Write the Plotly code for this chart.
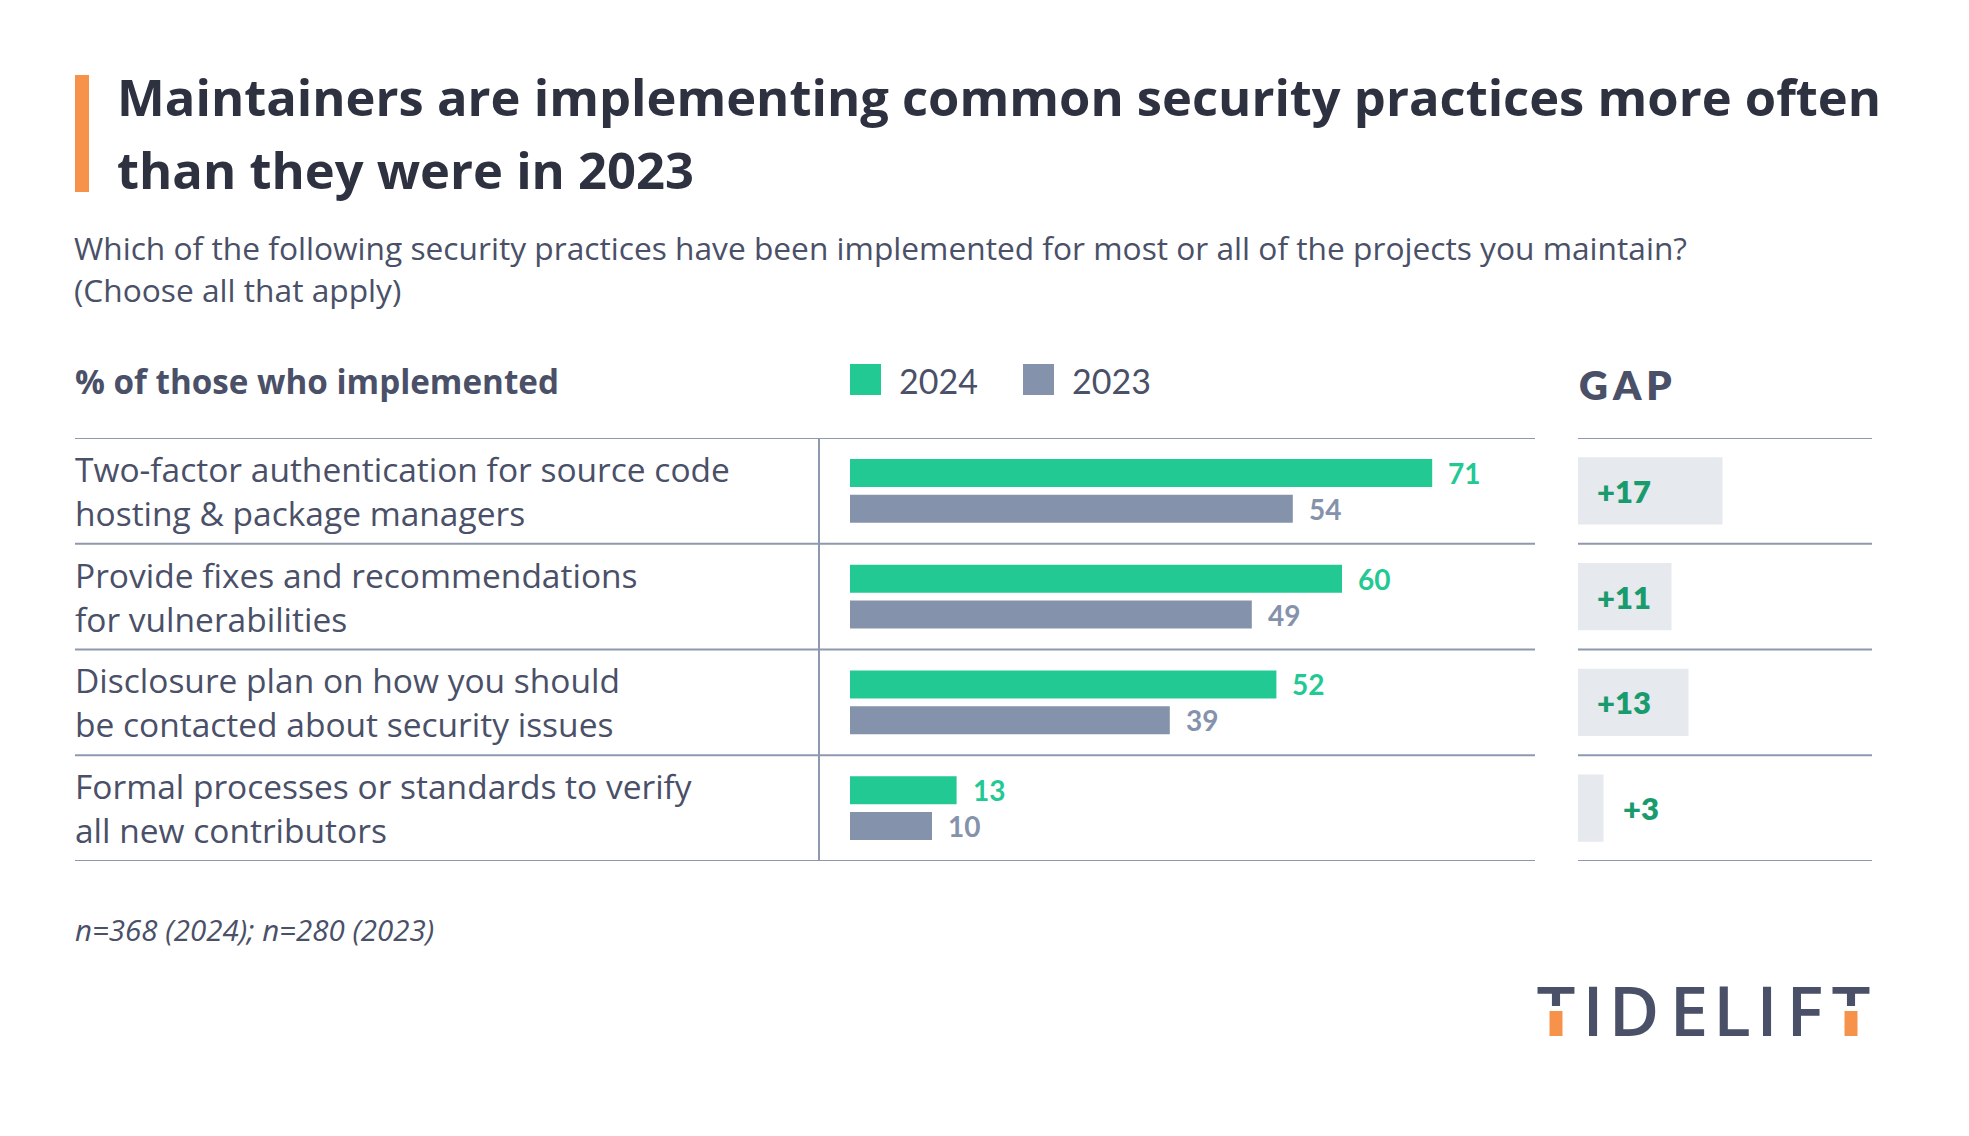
import plotly.graph_objects as go

W, H = 1969, 1136

# ---------------- data ----------------
title_lines = ["Maintainers are implementing common security practices more often",
               "than they were in 2023"]
subtitle_lines = ["Which of the following security practices have been implemented for most or all of the projects you maintain?",
                  "(Choose all that apply)"]
header_text = "% of those who implemented"
gap_header = "GAP"
footnote = "n=368 (2024); n=280 (2023)"
categories = ["Two-factor authentication for source code<br>hosting & package managers",
              "Provide fixes and recommendations<br>for vulnerabilities",
              "Disclosure plan on how you should<br>be contacted about security issues",
              "Formal processes or standards to verify<br>all new contributors"]
series_names = ["2024", "2023"]
values_2024 = [71, 60, 52, 13]
values_2023 = [54, 49, 39, 10]
gaps = [17, 11, 13, 3]
logo_letters = ["T", "I", "D", "E", "L", "I", "F", "T"]

# ---------------- style ----------------
GREEN = "#22c993"
GRAY = "#8592ab"
BOX = "#e6e9ee"
GAPTXT = "#1a9b6e"
TITLE = "#2e3240"
TEXT = "#4a5068"
LINE = "#8e99b0"
ORANGE = "#f7924a"
FONT = "Open Sans"
NUMFONT = "Lato"


def px(x):
    return x / W


def py(y):
    return 1 - y / H


ypos = list(range(len(categories)))

fig = go.Figure()
fig.add_bar(y=ypos, x=values_2024, orientation="h", name=series_names[0],
            marker=dict(color=GREEN, line=dict(width=0)), xaxis="x", yaxis="y",
            hoverinfo="skip")
fig.add_bar(y=ypos, x=values_2023, orientation="h", name=series_names[1],
            marker=dict(color=GRAY, line=dict(width=0)), xaxis="x", yaxis="y",
            hoverinfo="skip")
fig.add_bar(y=ypos, x=gaps, orientation="h", name="gap", width=0.634,
            marker=dict(color=BOX, line=dict(width=0)), xaxis="x2", yaxis="y",
            hoverinfo="skip")

# logo letters (pixel-space overlay axis so the orange accents can sit on top)
logo_centers = [1556, 1593, 1634, 1689, 1732, 1767, 1805, 1851]
fig.add_scatter(x=logo_centers, y=[1019] * len(logo_letters), text=logo_letters, mode="text",
                textposition="middle center", xaxis="x3", yaxis="y3", hoverinfo="skip",
                textfont=dict(family=FONT, size=69, color=TEXT, weight=600))

annotations = []
shapes = []

# title
for t, yc in zip(title_lines, [96.5, 169.5]):
    annotations.append(dict(text=t, xref="paper", yref="paper", x=px(115), y=py(yc),
                            xanchor="left", yanchor="middle", showarrow=False,
                            font=dict(family=FONT, size=50.7, color=TITLE, weight=700)))
# subtitle
for t, yc in zip(subtitle_lines, [248, 289]):
    annotations.append(dict(text=t, xref="paper", yref="paper", x=px(72), y=py(yc),
                            xanchor="left", yanchor="middle", showarrow=False,
                            font=dict(family=FONT, size=31.7, color=TEXT, weight=400)))
# header
annotations.append(dict(text=header_text, xref="paper", yref="paper", x=px(73), y=py(382),
                        xanchor="left", yanchor="middle", showarrow=False,
                        font=dict(family=FONT, size=33.2, color=TEXT, weight=700)))
# GAP header
annotations.append(dict(text="\u2009".join(gap_header), xref="paper", yref="paper", x=px(1577), y=py(385),
                        xanchor="left", yanchor="middle", showarrow=False,
                        font=dict(family=NUMFONT, size=40, color=TEXT, weight=800)))

# legend
leg_x = [850, 1023]
for name, col, lx in zip(series_names, [GREEN, GRAY], leg_x):
    shapes.append(dict(type="rect", xref="paper", yref="paper", x0=px(lx), x1=px(lx + 31),
                       y0=py(395), y1=py(364), fillcolor=col, line=dict(width=0)))
    annotations.append(dict(text=name, xref="paper", yref="paper", x=px(lx + 47), y=py(380.5),
                            xanchor="left", yanchor="middle", showarrow=False,
                            font=dict(family=NUMFONT, size=34, color=TEXT, weight=400)))

# category labels (two lines each)
for i, lab in enumerate(categories):
    annotations.append(dict(text=lab, xref="paper", yref="y", x=px(73), y=i,
                            xanchor="left", yanchor="middle", align="left", showarrow=False,
                            font=dict(family=FONT, size=33.5, color=TEXT, weight=400)))

# value labels
for vals, col, off in [(values_2024, GREEN, -0.17), (values_2023, GRAY, 0.17)]:
    for i, v in enumerate(vals):
        annotations.append(dict(text=str(v), xref="x", yref="y", x=v, y=i + off,
                                xanchor="left", yanchor="middle", showarrow=False, xshift=14,
                                font=dict(family=NUMFONT, size=28, color=col, weight=700)))

# gap labels
for i, g in enumerate(gaps):
    inside = g >= 8
    annotations.append(dict(text="+" + str(g), xref="x2", yref="y", x=0 if inside else g, y=i,
                            xanchor="left", yanchor="middle", showarrow=False, xshift=17,
                            font=dict(family=NUMFONT, size=31, color=GAPTXT, weight=800)))

# footnote
annotations.append(dict(text=footnote, xref="paper", yref="paper", x=px(73), y=py(929),
                        xanchor="left", yanchor="middle", showarrow=False,
                        font=dict(family=FONT, size=29.5, color=TEXT, style="italic")))

# orange accents on the logo's T stems
for idx in [0, len(logo_letters) - 1]:
    cx = logo_centers[idx]
    shapes.append(dict(type="rect", xref="x3", yref="y3", x0=cx - 6.5, x1=cx + 6.5, y0=1006, y1=1011,
                       fillcolor="white", line=dict(width=0), layer="above"))
    shapes.append(dict(type="rect", xref="x3", yref="y3", x0=cx - 6.5, x1=cx + 6.5, y0=1011, y1=1036,
                       fillcolor=ORANGE, line=dict(width=0), layer="above"))

# orange accent bar
shapes.append(dict(type="rect", xref="paper", yref="paper", x0=px(75), x1=px(89),
                   y0=py(192), y1=py(75), fillcolor=ORANGE, line=dict(width=0)))

# table rules
n = len(categories)
for b in [k - 0.5 for k in range(n + 1)]:
    shapes.append(dict(type="line", xref="paper", yref="y", x0=px(75), x1=px(1535), y0=b, y1=b,
                       line=dict(color=LINE, width=2)))
    shapes.append(dict(type="line", xref="paper", yref="y", x0=px(1578), x1=px(1872), y0=b, y1=b,
                       line=dict(color=LINE, width=2)))
shapes.append(dict(type="line", xref="paper", yref="y", x0=px(819), x1=px(819), y0=-0.5, y1=n - 0.5,
                   line=dict(color=LINE, width=2)))

fig.update_layout(
    width=W, height=H, margin=dict(l=0, r=0, t=0, b=0),
    paper_bgcolor="white", plot_bgcolor="rgba(0,0,0,0)",
    showlegend=False, barmode="group", bargap=0.32, bargroupgap=0.22,
    xaxis=dict(domain=[px(850), px(1535)], range=[0, 685 / 8.2], visible=False),
    xaxis2=dict(domain=[px(1578), px(1872)], range=[0, 294 / 8.5], anchor="y", visible=False),
    yaxis=dict(domain=[py(861), py(438)], range=[n - 0.5, -0.5], visible=False),
    xaxis3=dict(domain=[0, 1], range=[0, W], anchor="y3", visible=False),
    yaxis3=dict(domain=[0, 1], range=[H, 0], anchor="x3", visible=False),
    annotations=annotations, shapes=shapes,
)

fig.write_html("out.html")
